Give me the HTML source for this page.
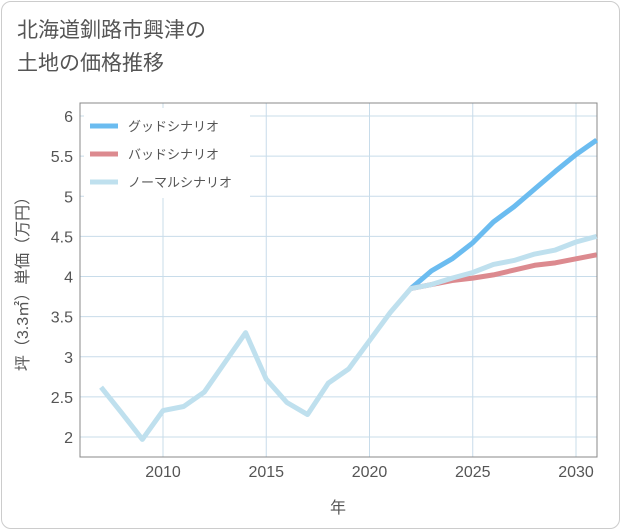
<!DOCTYPE html>
<html><head><meta charset="utf-8"><style>
body{margin:0;background:#fff;font-family:"Liberation Sans","Noto Sans CJK JP",sans-serif;}
#card{position:absolute;left:1px;top:1px;width:617px;height:526px;border:1px solid #ccc;border-radius:10px;background:#fff;}
#title{position:absolute;left:17px;top:14px;font-size:21px;line-height:33px;color:#555;}
svg{position:absolute;left:0;top:0;}
</style></head><body>
<div id="card"></div>
<div id="title">北海道釧路市興津の<br>土地の価格推移</div>
<svg id="chart" width="621" height="530"></svg>
<script>
const years=[2007,2008,2009,2010,2011,2012,2013,2014,2015,2016,2017,2018,2019,2020,2021,2022,2023,2024,2025,2026,2027,2028,2029,2030,2031];
const normal=[2.62,2.3,1.97,2.33,2.38,2.56,2.93,3.3,2.72,2.43,2.28,2.67,2.85,3.2,3.55,3.85,3.9,3.98,4.05,4.15,4.2,4.28,4.33,4.43,4.5];
const futYears=[2022,2023,2024,2025,2026,2027,2028,2029,2030,2031];
const good=[3.85,4.07,4.22,4.42,4.68,4.87,5.09,5.31,5.52,5.7];
const bad=[3.85,3.9,3.95,3.98,4.02,4.08,4.14,4.17,4.22,4.27];
const xTicks=[2010,2015,2020,2025,2030];
const yTicks=[2,2.5,3,3.5,4,4.5,5,5.5,6];
const L=80,R=597,T=103,B=457;
const x=v=>163+(v-2010)*20.65;
const y=v=>116+(6-v)*80.25;
const s=document.getElementById('chart');
const NS='http://www.w3.org/2000/svg';
function el(t,a,p){const e=document.createElementNS(NS,t);for(const k in a)e.setAttribute(k,a[k]);(p||s).appendChild(e);return e;}
xTicks.forEach(t=>{const g=el('line',{x1:x(t),x2:x(t),y1:T,y2:B,stroke:'#c8dcea','stroke-width':1});


const tx=el('text',{x:x(t),y:477,'text-anchor':'middle','font-size':16,fill:'#555'});tx.textContent=t;

});
yTicks.forEach(t=>{const g=el('line',{x1:L,x2:R,y1:y(t),y2:y(t),stroke:'#c8dcea','stroke-width':1});


const tx=el('text',{x:73,y:y(t)+6,'text-anchor':'end','font-size':16,fill:'#555'});tx.textContent=t;

});
const frame=el('rect',{x:L,y:T,width:R-L,height:B-T,fill:'none',stroke:'#888','stroke-width':1});


function line(xs,vs,c,n){const p=el('polyline',{points:xs.map((v,i)=>x(v)+','+y(vs[i])).join(' '),fill:'none',stroke:c,'stroke-width':5,'stroke-linejoin':'round'});

}
line(futYears,good,'#6bbcf0','good-scenario-line');
line(futYears,bad,'#dc8a8f','bad-scenario-line');
line(years,normal,'#bfe0ee','normal-scenario-line');
const lb=el('rect',{x:84,y:108,width:166,height:90,fill:'#fff'});


const leg=[['グッドシナリオ','#6bbcf0',126],['バッドシナリオ','#dc8a8f',154],['ノーマルシナリオ','#bfe0ee',182]];
leg.forEach(l=>{const ln=el('line',{x1:90,x2:118,y1:l[2],y2:l[2],stroke:l[1],'stroke-width':5});


const t=el('text',{x:128,y:l[2]+5,'font-size':13,fill:'#555'});t.textContent=l[0];

});
const xt=el('text',{x:338,y:513,'text-anchor':'middle','font-size':16,fill:'#555'});xt.textContent='年';


const yt=el('text',{x:0,y:0,'text-anchor':'middle','font-size':16,fill:'#555',transform:'translate(28,280) rotate(-90)'});yt.textContent='坪（3.3㎡）単価（万円）';


</script>
</body></html>
